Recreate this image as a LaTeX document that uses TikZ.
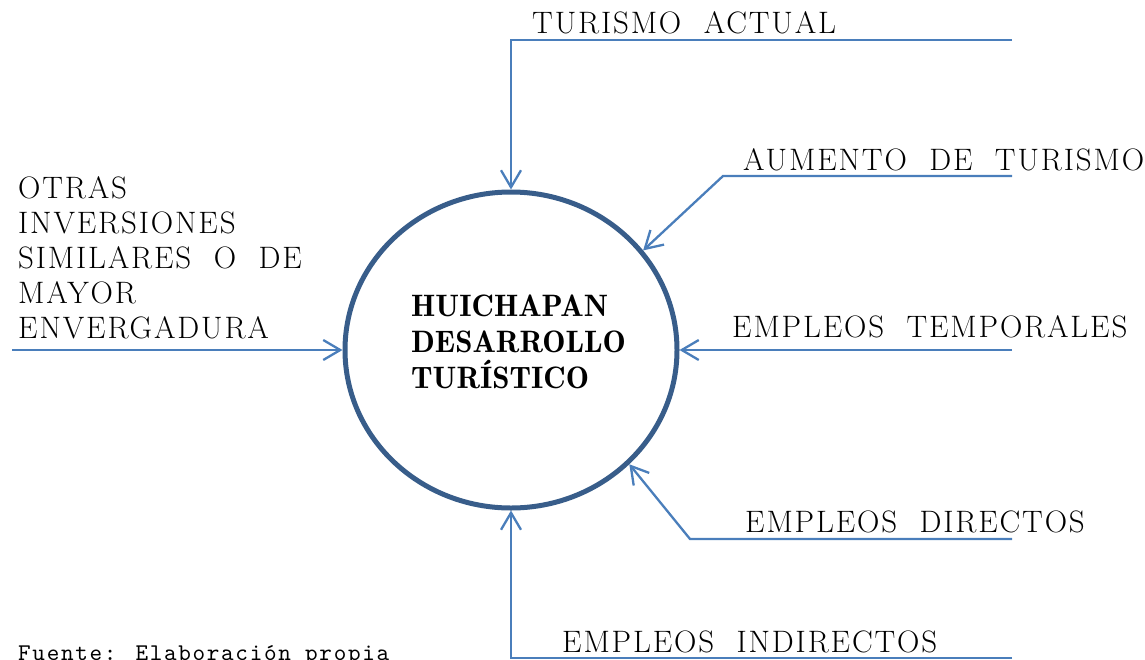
\documentclass[tikz,border=0pt]{standalone}
\usepackage{fontspec}
\usetikzlibrary{arrows.meta,shapes.geometric}
\newfontfamily\lblfont{lmroman17-regular}[Extension=.otf, LetterSpace=6, WordSpace=2]
\newfontfamily\ctrfont{lmromandemi10-regular}[Extension=.otf]
\newfontfamily\srcfont{lmmono10-regular}[Extension=.otf, LetterSpace=7]
\definecolor{ring}{HTML}{385D8A}
\definecolor{arr}{HTML}{4A7EBB}
\begin{document}
\begin{tikzpicture}[x=1pt,y=-1pt,
  lbl/.style={anchor=base west, inner sep=0pt, font=\lblfont\fontsize{31}{35.2}\selectfont},
  conn/.style={draw=arr, line width=2.3pt, -{Straight Barb[length=17pt,width=20pt]}},
]
\useasboundingbox (0,0) rectangle (1145,659);
\node[ellipse, draw=ring, line width=5pt, minimum width=332pt, minimum height=316pt, inner sep=0pt] (c) at (511,350) {};
\node[anchor=north west, inner sep=0pt, align=left, font=\ctrfont\fontsize{31}{36}\selectfont] (ctr) at (411,295) {HUICHAPAN\\DESARROLLO\\TURÍSTICO};
\node[anchor=north west, inner sep=0pt, align=left, font=\lblfont\fontsize{31}{35.2}\selectfont] (otras) at (18,176) {OTRAS\\INVERSIONES\\SIMILARES O DE\\MAYOR\\ENVERGADURA};
\node[lbl] (t1) at (532,33) {TURISMO ACTUAL};
\node[lbl] (t2) at (743,170) {AUMENTO DE TURISMO};
\node[lbl] (t3) at (732,337) {EMPLEOS TEMPORALES};
\node[lbl] (t4) at (745,532) {EMPLEOS DIRECTOS};
\node[lbl] (t5) at (562,652) {EMPLEOS INDIRECTOS};
\node[anchor=base west, inner sep=0pt, font=\srcfont\fontsize{24}{28}\selectfont] (src) at (18,660) {Fuente: Elaboración propia};
\coordinate (a1) at (1012,40);
\coordinate (b1) at (511,40);
\coordinate (a2) at (1012,176);
\coordinate (b2) at (723,176);
\coordinate (a3) at (1012,350);
\coordinate (a4) at (1012,539);
\coordinate (b4) at (690,539);
\coordinate (a5) at (1012,658);
\coordinate (b5) at (511,658);
\coordinate (a6) at (12,350);
\draw[conn] (a1) -- (b1) -- (c.north);
\draw[conn] (a2) -- (b2) -- (c.37);
\draw[conn] (a3) -- (c.east);
\draw[conn] (a4) -- (b4) -- (c.-44);
\draw[conn] (a5) -- (b5) -- (c.south);
\draw[conn] (a6) -- (c.west);
\end{tikzpicture}
\end{document}
